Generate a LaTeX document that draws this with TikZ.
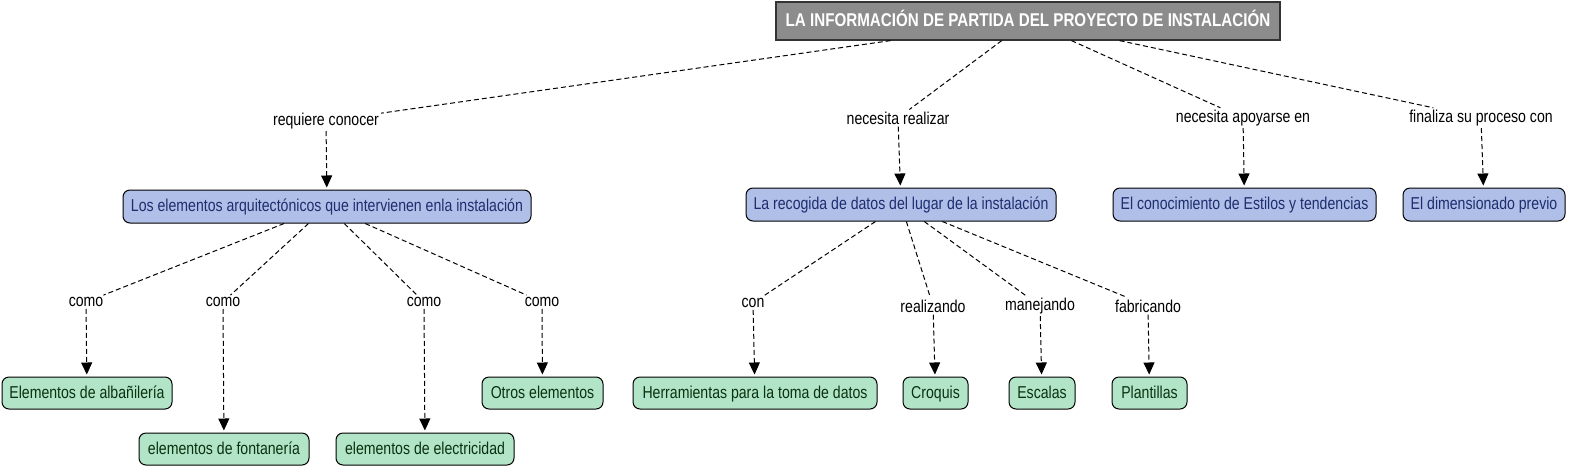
\documentclass[tikz,border=0pt]{standalone}
\usepackage{fontspec}
\setmainfont[FakeStretch=0.82]{Liberation Sans}
\usetikzlibrary{arrows.meta}
\definecolor{cblue}{RGB}{176,191,232}
\definecolor{tblue}{RGB}{30,45,110}
\definecolor{cgreen}{RGB}{178,228,200}
\definecolor{tgreen}{RGB}{10,50,15}
\definecolor{cgray}{RGB}{140,140,140}
\tikzset{
  base/.style={draw=black, line width=1pt, rounded corners=7pt, inner sep=2pt, align=center,
     text height=12pt, text depth=1.5pt},
  titlebox/.style={draw=black!80, line width=1.2pt, fill=cgray, text=white, inner sep=2pt,
     text height=13pt, text depth=1.5pt, font=\fontsize{18.5}{21}\selectfont\bfseries},
  bluebox/.style={base, fill=cblue, text=tblue, minimum height=33pt, font=\fontsize{17.2}{19}\selectfont},
  greenbox/.style={base, fill=cgreen, text=tgreen, minimum height=32pt, font=\fontsize{17.2}{19}\selectfont},
  lab/.style={inner sep=2pt, font=\fontsize{17.2}{19}\selectfont},
  conn/.style={line width=1pt, dash pattern=on 5pt off 3pt},
  arr/.style={conn, shorten >=2pt, -{Triangle[width=11pt,length=12pt]}},
}
\begin{document}
\begin{tikzpicture}[x=1pt,y=-1pt]
\useasboundingbox (0,0) rectangle (1570,469);
% title
\node[titlebox, minimum width=504pt, minimum height=38pt] (t) at (1028,21) {LA INFORMACIÓN DE PARTIDA DEL PROYECTO DE INSTALACIÓN};
% concepts
\node[bluebox, minimum width=408pt] (c1) at (327,206.5) {Los elementos arquitectónicos que intervienen enla instalación};
\node[bluebox, minimum width=310pt] (c2) at (901,204.5) {La recogida de datos del lugar de la instalación};
\node[bluebox, minimum width=263pt] (c3) at (1244.5,204.5) {El conocimiento de Estilos y tendencias};
\node[bluebox, minimum width=162pt] (c4) at (1484,204.5) {El dimensionado previo};
\node[greenbox, minimum width=170pt] (g1) at (87,393) {Elementos de albañilería};
\node[greenbox, minimum width=170pt] (g2) at (224,449) {elementos de fontanería};
\node[greenbox, minimum width=178pt] (g3) at (425,449) {elementos de electricidad};
\node[greenbox, minimum width=121pt] (g4) at (542.5,393) {Otros elementos};
\node[greenbox, minimum width=244pt] (g5) at (755,393) {Herramientas para la toma de datos};
\node[greenbox, minimum width=65pt] (g6) at (935.5,393) {Croquis};
\node[greenbox, minimum width=66pt] (g7) at (1042,393) {Escalas};
\node[greenbox, minimum width=75pt] (g8) at (1149.5,393) {Plantillas};
% labels
\node[lab] (l1) at (326,121) {requiere conocer};
\node[lab] (l2) at (898,118) {necesita realizar};
\node[lab] (l3) at (1243,118) {necesita apoyarse en};
\node[lab] (l4) at (1481,118) {finaliza su proceso con};
\node[lab] (m1) at (86,302) {como};
\node[lab] (m2) at (223,302) {como};
\node[lab] (m3) at (424,302) {como};
\node[lab] (m4) at (542,302) {como};
\node[lab] (n1) at (753,303) {con};
\node[lab] (n2) at (933,306) {realizando};
\node[lab] (n3) at (1040,306) {manejando};
\node[lab] (n4) at (1148,306) {fabricando};
% connectors
\draw[conn] (t) -- (l1); \draw[arr] (l1) -- (c1);
\draw[conn] (t) -- (l2); \draw[arr] (l2) -- (c2);
\draw[conn] (t) -- (l3); \draw[arr] (l3) -- (c3);
\draw[conn] (t) -- (l4); \draw[arr] (l4) -- (c4);
\draw[conn] (c1) -- (m1); \draw[arr] (m1) -- (g1);
\draw[conn] (c1) -- (m2); \draw[arr] (m2) -- (g2);
\draw[conn] (c1) -- (m3); \draw[arr] (m3) -- (g3);
\draw[conn] (c1) -- (m4); \draw[arr] (m4) -- (g4);
\draw[conn] (c2) -- (n1); \draw[arr] (n1) -- (g5);
\draw[conn] (c2) -- (n2); \draw[arr] (n2) -- (g6);
\draw[conn] (c2) -- (n3); \draw[arr] (n3) -- (g7);
\draw[conn] (c2) -- (n4); \draw[arr] (n4) -- (g8);
\end{tikzpicture}
\end{document}
